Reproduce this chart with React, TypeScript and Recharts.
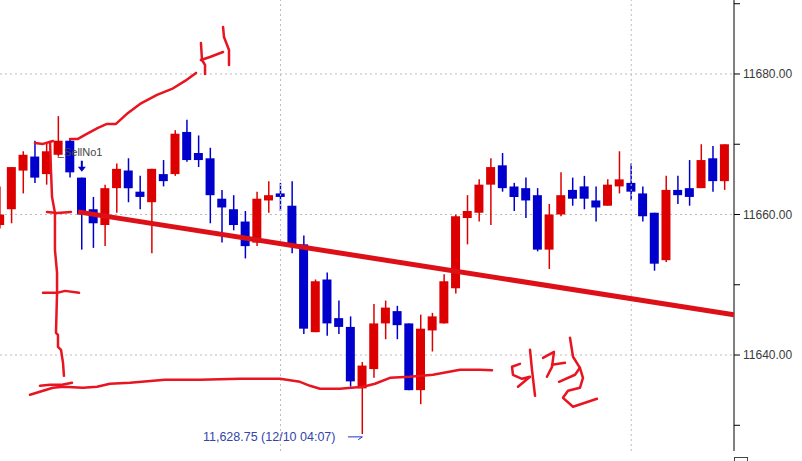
import { Bar, CartesianGrid, Cell, ComposedChart, ReferenceDot, ReferenceLine, Scatter, XAxis, YAxis } from "recharts";

const UP_COLOR = "#dd0000";
const DOWN_COLOR = "#0000cc";
const INK_COLOR = "#e81420";
const GRID_COLOR = "#bbbbbb";
const LABEL_COLOR = "#3a3a3a";

const opens = [
  11658.5, 11660.75, 11666.25, 11668.25, 11665.75, 11668.5, 11670.5, 11665.25, 11660.75, 11658.5,
  11663.75, 11666.25, 11663.25, 11661.75, 11665.75, 11665.75, 11671.75, 11668.75, 11668, 11662.25,
  11660.75, 11659, 11656, 11662, 11663, 11661.25, 11655.75, 11643.25, 11650.75, 11645.25,
  11644, 11635.25, 11638, 11644.5, 11646.25, 11644.5, 11635, 11643.5, 11644.5, 11649.5,
  11659.5, 11660.25, 11664.25, 11667, 11664, 11663.75, 11662.75, 11655, 11660, 11663.5,
  11664, 11662, 11661.25, 11664, 11664.5, 11663, 11660.25, 11653.5, 11663.5, 11663.75,
  11663.75, 11668, 11664.75,
];
const closes = [
  11660, 11666.75, 11668.5, 11665.25, 11669, 11670.5, 11666, 11660, 11658.75, 11663.75,
  11666.5, 11663.75, 11662.5, 11666.5, 11664.75, 11671.5, 11667.75, 11667.75, 11662.75, 11661,
  11658.5, 11655.5, 11662.25, 11662.75, 11662.5, 11655.75, 11643.75, 11650.5, 11644.5, 11644,
  11636.25, 11638.5, 11644.5, 11646.75, 11644.25, 11635, 11643.75, 11645.5, 11650.5, 11659.75,
  11660.5, 11664.25, 11666.75, 11663.75, 11662.5, 11662, 11655, 11660, 11662.75, 11662.25,
  11662.25, 11661, 11664.25, 11665, 11663.25, 11659.75, 11653, 11663.5, 11662.75, 11662.5,
  11667.75, 11664.75, 11670,
];
const highs = [
  11664, 11666.75, 11669, 11670.5, 11670.25, 11674, 11670.75, 11665.25, 11662.5, 11664.25,
  11667.25, 11668, 11665.5, 11666.5, 11667.75, 11672, 11673.5, 11671.25, 11669.5, 11663.5,
  11662.75, 11660.5, 11663.25, 11664.75, 11664.5, 11664.75, 11657, 11650.75, 11651.75, 11647.75,
  11645.5, 11639, 11647.25, 11647.75, 11647, 11644.5, 11645.75, 11646, 11651.5, 11660,
  11662.75, 11665, 11668, 11668.75, 11664.5, 11665.25, 11663.75, 11661.5, 11666, 11665.25,
  11665.5, 11664, 11665, 11669, 11667.25, 11664, 11660.25, 11665.5, 11665.5, 11667.75,
  11670, 11669.75, 11670,
];
const lows = [
  11658, 11658.75, 11663, 11664.5, 11664.25, 11668.25, 11665.25, 11655, 11655.25, 11655.5,
  11660.25, 11661.75, 11660.75, 11654.5, 11664, 11665.5, 11667.5, 11666.75, 11658.75, 11656,
  11657.75, 11653.75, 11655.5, 11660.25, 11660.5, 11654.5, 11643, 11643.25, 11642.75, 11643,
  11635.5, 11628.75, 11636.75, 11642.25, 11642.25, 11635, 11633, 11640.5, 11644.5, 11648.75,
  11655.75, 11659, 11658.5, 11663.25, 11660.5, 11659.5, 11654.75, 11652.25, 11659.75, 11661.25,
  11660.75, 11659, 11661.25, 11663, 11662, 11659, 11652, 11653.25, 11661.5, 11661.25,
  11663.75, 11663.25, 11663.5,
];

const yTicks = [11630, 11640, 11650, 11660, 11670, 11680, 11690];
const labelledTicks = [11640, 11660, 11680];
const dayTicks = [24, 54];

// hand drawn marks over the chart, [bar index, price]
const trendLine = [[6.67, 11660.37], [62.79, 11645.72]];
const inkStrokes = [
  [[5.99, 11670.76], [6.67, 11670.76], [7.27, 11671.33], [8.38, 11672.32], [9.15, 11672.89], [9.92, 11672.89], [10.95, 11674.46], [11.98, 11675.74], [13.43, 11677.02], [14.71, 11677.87], [15.83, 11679.01], [16.77, 11680.15]],
  [[17.19, 11684.41], [17.28, 11681.99], [17.54, 11681.28], [17.54, 11680]],
  [[17.19, 11681.99], [17.96, 11682.42], [19.08, 11683.13]],
  [[19.08, 11686.69], [19.16, 11685.27], [19.59, 11683.42], [19.59, 11681.28]],
  [[2.99, 11670.19], [3.68, 11670.05], [4.53, 11670.47]],
  [[4.28, 11670.33], [4.36, 11666.35], [4.45, 11662.51], [4.7, 11660.23], [4.7, 11654.97], [4.88, 11651.7], [4.88, 11648.85], [4.79, 11643.16], [4.96, 11642.88], [4.96, 11641.17], [5.22, 11640.74], [5.39, 11638.89], [5.47, 11637.04]],
  [[3.68, 11648.85], [4.88, 11648.85], [5.56, 11649.13], [6.76, 11648.85]],
  [[4.02, 11660.37], [4.88, 11660.23], [6.07, 11660.37]],
  [[3.42, 11635.62], [4.28, 11635.76], [5.3, 11635.76], [6.16, 11636.05]],
  [[2.57, 11634.34], [4.53, 11635.34], [5.39, 11635.48], [7.1, 11635.34], [8.3, 11635.48], [9.41, 11635.91], [11.12, 11636.05], [14.11, 11636.47], [17.11, 11636.47], [20.53, 11636.62], [23.95, 11636.62], [25.66, 11636.19], [26.52, 11635.62], [27.37, 11635.19], [29.08, 11635.19], [31.05, 11635.48], [32.08, 11635.91], [33.36, 11636.76], [35.07, 11636.9], [37.04, 11637.19], [39.35, 11637.9], [41.06, 11637.9], [42.09, 11637.83]],
  [[44.48, 11638.75], [43.8, 11638.33], [43.88, 11637.19], [44.65, 11636.62], [45.34, 11636.9], [44.31, 11635.48]],
  [[45.34, 11640.74], [45.51, 11637.9], [45.77, 11634.2]],
  [[46.45, 11639.6], [47.39, 11640.46], [47.22, 11638.32], [46.79, 11636.9]],
  [[47.22, 11638.61], [48.33, 11638.89]],
  [[48.76, 11642.45], [49.02, 11639.75], [49.61, 11638.18], [49.19, 11637.19], [47.82, 11636.19]],
  [[49.61, 11638.18], [49.87, 11636.76], [49.61, 11635.34], [48.59, 11634.91], [48.16, 11633.91], [49.02, 11632.63], [51.07, 11633.77]],
];
const lowPointer = [[29.77, 11628.35], [31, 11628.35], [30.65, 11627.95]];

const candles = opens.map((open, i) => ({
  i,
  open,
  close: closes[i],
  wick: [lows[i], highs[i]],
  body: [Math.min(open, closes[i]), Math.max(open, closes[i])],
}));

const toPoints = (stroke: number[][]) => stroke.map(([i, price]) => ({ i, price }));

const tickFmt = (v: number) => (labelledTicks.includes(v) ? v.toFixed(2) : "");

export default function App() {
  return (
    <div style={{ position: "absolute", left: 0, top: 0, width: 802, height: 461, overflow: "hidden", background: "#fff" }}>
      <ComposedChart
        width={802}
        height={461}
        data={candles}
        margin={{ top: 0, right: 0, bottom: 0, left: 0 }}
      >
        <CartesianGrid
          stroke={GRID_COLOR}
          strokeDasharray="2 3"
          xAxisId="time"
          vertical={false}
          horizontalValues={labelledTicks}
        />
        <XAxis
          xAxisId="time"
          dataKey="i"
          type="number"
          domain={[0, 62.79]}
          allowDataOverflow
          ticks={dayTicks}
          interval={0}
          tickFormatter={() => ""}
          tickSize={5}
          height={10}
          stroke="#000"
        />
        <XAxis xAxisId="wick" dataKey="i" type="number" domain={[0, 62.79]} allowDataOverflow hide />
        <XAxis xAxisId="body" dataKey="i" type="number" domain={[0, 62.79]} allowDataOverflow hide />
        <YAxis
          orientation="right"
          type="number"
          domain={[11626.34, 11690.53]}
          allowDataOverflow
          ticks={yTicks}
          interval={0}
          width={68}
          tickSize={6}
          tickMargin={3}
          tickFormatter={tickFmt}
          stroke="#000"
          tick={{ fill: LABEL_COLOR, fontSize: 12, fontFamily: "Liberation Sans" }}
        />
        {dayTicks.map((d) => (
          <ReferenceLine key={d} xAxisId="time" x={d} stroke={GRID_COLOR} strokeDasharray="2 3" />
        ))}
        <Bar xAxisId="wick" dataKey="wick" barSize={1.5} isAnimationActive={false}>
          {candles.map((c) => (
            <Cell key={c.i} fill={c.close >= c.open ? UP_COLOR : DOWN_COLOR} />
          ))}
        </Bar>
        <Bar xAxisId="body" dataKey="body" barSize={9} isAnimationActive={false}>
          {candles.map((c) => (
            <Cell key={c.i} fill={c.close >= c.open ? UP_COLOR : DOWN_COLOR} />
          ))}
        </Bar>
        <Scatter
          xAxisId="time"
          data={toPoints(lowPointer)}
          dataKey="price"
          line={{ stroke: "#2233bb", strokeWidth: 1 }}
          shape={() => null}
          isAnimationActive={false}
        />
        <Scatter
          xAxisId="time"
          data={toPoints(trendLine)}
          dataKey="price"
          line={{ stroke: "#dd1018", strokeWidth: 5 }}
          shape={() => null}
          isAnimationActive={false}
        />
        {inkStrokes.map((stroke, k) => (
          <Scatter
            key={k}
            xAxisId="time"
            data={toPoints(stroke)}
            dataKey="price"
            line={{ stroke: INK_COLOR, strokeWidth: 2.5, strokeLinejoin: "round", strokeLinecap: "round" }}
            shape={() => null}
            isAnimationActive={false}
          />
        ))}
        <ReferenceDot
          xAxisId="time"
          x={7}
          y={11666.5}
          ifOverflow="visible"
          shape={({ cx, cy }: any) => (
            <g>
              <path d={`M${cx - 1} ${cy - 8} h2 v6 h3 l-4 5 l-4 -5 h3 z`} fill={DOWN_COLOR} />
              <text x={cx - 24} y={cy - 13} fontSize={11} fill="#444" fontFamily="Liberation Sans">_SellNo1</text>
            </g>
          )}
        />
        <ReferenceDot
          xAxisId="time"
          x={28.7}
          y={11628.35}
          ifOverflow="visible"
          shape={({ cx, cy }: any) => (
            <text x={cx} y={cy + 4} textAnchor="end" fontSize={12.5} fill="#3344aa" fontFamily="Liberation Sans">
              11,628.75 (12/10 04:07)
            </text>
          )}
        />
      </ComposedChart>
      <div style={{ position: "absolute", left: 734, top: 457, width: 12, height: 10, border: "1px solid #444" }} />
    </div>
  );
}
